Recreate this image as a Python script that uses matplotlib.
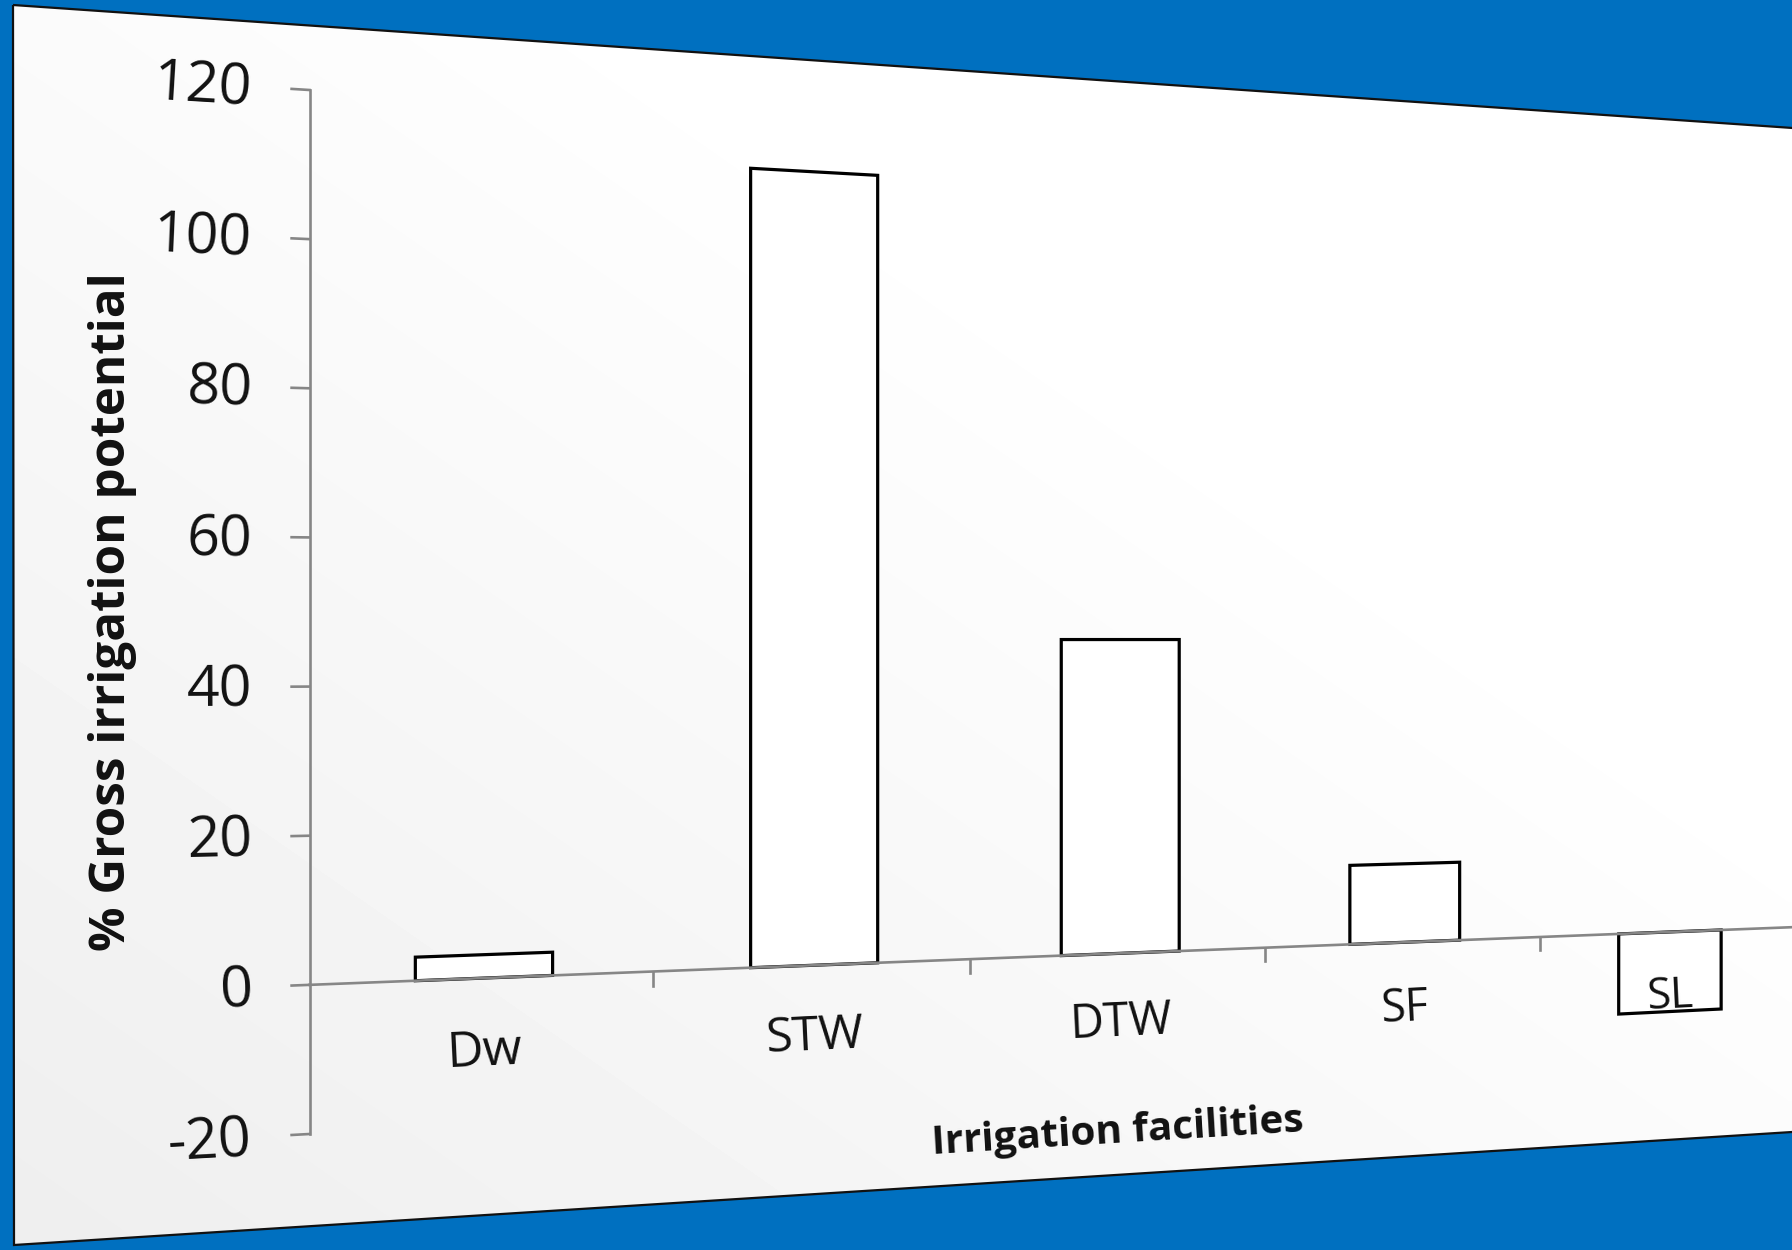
import numpy as np
import matplotlib
matplotlib.use("Agg")
import matplotlib.pyplot as plt
import matplotlib.transforms as mtransforms
from matplotlib.patches import Polygon

# values
categories = ["Dw", "STW", "DTW", "SF", "SL"]
values = [3.2, 112.8, 46.3, 12.0, -12.6]
y_ticks = [-20, 0, 20, 40, 60, 80, 100, 120]

W, H = 1792, 1250
BLUE = "#0070C0"
AX_GRAY = "#868686"
INK = "#111111"

# where some chart points land on the tilted slide (image pixels, y down)
ANCHORS = [((-0.5, 120), (309.5, 90)),
           ((-0.5, -20), (309.5, 1134)),
           ((3.5, 0), (1540, 937)),
           ((3.5, 120), (1540, 166))]
# slide outline (image pixels, y down)
PAGE = [(13, 5), (1800, 128.5), (1800, 1131.5), (14, 1245)]

plt.rcParams["font.family"] = ["Open Sans", "DejaVu Sans"]


class Homography(mtransforms.Transform):
    input_dims = output_dims = 2

    def __init__(self, M):
        super().__init__()
        self.M = M

    def transform_non_affine(self, values):
        v = np.asarray(values, float)
        one = v.ndim == 1
        v = np.atleast_2d(v)
        h = np.column_stack([v, np.ones(len(v))]) @ self.M.T
        out = h[:, :2] / h[:, 2:3]
        return out[0] if one else out


def solve_homography(src, dst):
    A, b = [], []
    for (x, y), (u, v) in zip(src, dst):
        A.append([x, y, 1, 0, 0, 0, -u * x, -u * y])
        b.append(u)
        A.append([0, 0, 0, x, y, 1, -v * x, -v * y])
        b.append(v)
    h = np.linalg.solve(np.array(A, float), np.array(b, float))
    return np.append(h, 1).reshape(3, 3)


fig = plt.figure(figsize=(W / 100, H / 100), dpi=100, facecolor=BLUE)

# slide background with a faint gradient
bg = fig.add_axes([0, 0, 1, 1], zorder=-1)
bg.set_axis_off()
bg.set_xlim(0, W)
bg.set_ylim(H, 0)
page = Polygon(PAGE, closed=True, facecolor="none", edgecolor="#111111",
               lw=1.6, transform=bg.transData, zorder=3)
gx, gy = np.meshgrid(np.linspace(0, 1, 300), np.linspace(0, 1, 300))
shade = 1 - 0.07 * np.clip((1 - gx) * 0.7 + gy * 0.7 - 0.45, 0, 1)
im = bg.imshow(shade, cmap="gray", vmin=0, vmax=1, extent=(0, W, H, 0),
               interpolation="bilinear", aspect="auto")
im.set_clip_path(page)
bg.add_patch(page)

# the chart itself, in flat data space, then warped onto the slide
ax = fig.add_axes([0.1, 0.1, 0.8, 0.8])
ax.set_xlim(-0.5, 4.5)
ax.set_ylim(-20, 120)
ax.set_axis_off()

src = ax.transData.transform([p for p, _ in ANCHORS])
dst = [(u, H - v) for _, (u, v) in ANCHORS]
warp = Homography(solve_homography(src, dst))
T = ax.transData + warp
kw = dict(transform=T, clip_on=False)

REF = (T.transform((-0.5, 1)) - T.transform((-0.5, 0)))[1]


def label(x, y, s, size, vertical=False, **k):
    p = T.transform((x, y))
    dx = T.transform((x + 0.05, y)) - p
    dy = T.transform((x, y + 1)) - p
    d = dy if vertical else dx
    ang = np.degrees(np.arctan2(d[1], d[0]))
    scale = dy[1] / REF
    ax.text(x, y, s, rotation=ang, rotation_mode="anchor",
            fontsize=size * scale, color=INK, **kw, **k)


ax.bar(range(len(categories)), values, width=0.4, facecolor="white",
       edgecolor="black", linewidth=2.3, joinstyle="miter", zorder=2, **kw)

# axes lines and ticks
ax.plot([-0.5, -0.5], [-20, 120], color=AX_GRAY, lw=1.9, zorder=3, **kw)
for t in y_ticks:
    ax.plot([-0.55, -0.5], [t, t], color=AX_GRAY, lw=1.9, zorder=3, **kw)
    label(-0.66, t - 0.6, str(t), 41, ha="right", va="center")
ax.plot([-0.5, 5.5], [0, 0], color=AX_GRAY, lw=1.9, zorder=3, **kw)
for b in np.arange(0.5, 5, 1.0):
    ax.plot([b, b], [0, -2], color=AX_GRAY, lw=1.9, zorder=3, **kw)

for i, c in enumerate(categories):
    label(i, -10.2, c, 37, ha="center", va="center")

label(1.99, -26.4, "Irrigation facilities", 32, ha="center", va="center",
      weight="bold")
label(-1.04, 50, "% Gross irrigation potential", 34.8, vertical=True,
      ha="center", va="center", weight="bold")

fig.savefig("out.png", dpi=100, facecolor=BLUE)
